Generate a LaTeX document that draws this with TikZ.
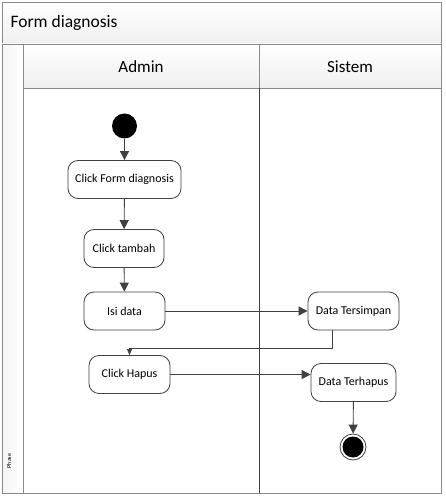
\documentclass[tikz,border=0pt]{standalone}
\usepackage{fontspec}
\setmainfont{Carlito}
\usetikzlibrary{arrows.meta,positioning}
\definecolor{frame}{HTML}{8A8A8A}
\definecolor{linec}{HTML}{404040}
\tikzset{
  act/.style={draw=linec, line width=0.8pt, rounded corners=10pt, fill=white, minimum height=38pt, font=\fontsize{12}{14}\selectfont, inner sep=0pt},
  flow/.style={draw=linec, line width=0.9pt, -{Triangle[length=9pt,width=9pt]}},
  thinflow/.style={draw=linec, line width=0.7pt, -{Triangle[length=6pt,width=5pt]}},
  band/.style={draw=frame, line width=0.9pt, top color=white, bottom color=gray!12},
}
\begin{document}
\begin{tikzpicture}[x=1pt,y=-1pt]
\useasboundingbox (0,0) rectangle (446,497);
% outer frame and bands
\draw[band] (2,2) rectangle (441,44);
\node[anchor=west, font=\fontsize{17.5}{20}\selectfont] (title) at (7,23) {Form diagnosis};
\draw[draw=frame, line width=0.9pt, fill=white] (2,44) rectangle (441,493);
\draw[draw=frame, line width=0.9pt, left color=gray!8, right color=white] (2,44) rectangle (23,493);
\node[rotate=90, font=\fontsize{6}{7}\selectfont, anchor=center] (phase) at (9,461) {Phase};
\draw[band] (23,44) rectangle (259,88);
\draw[band] (259,44) rectangle (441,88);
\node[font=\fontsize{17}{20}\selectfont] (admin) at (141,67) {Admin};
\node[font=\fontsize{17}{20}\selectfont] (sistem) at (350,67) {Sistem};
\draw[draw=linec, line width=0.9pt] (259,88) -- (259,493);
\draw[draw=frame, line width=0.9pt] (2,493) -- (441,493);
% nodes
\node[circle, fill=black, minimum size=25pt, inner sep=0pt] (start) at (124.5,126) {};
\node[act, minimum width=113pt] (cfd) at (124.5,179.5) {Click Form diagnosis};
\node[act, minimum width=80pt] (ct) at (124,248.5) {Click tambah};
\node[act, minimum width=81pt] (isi) at (124.5,311) {Isi data};
\node[act, minimum width=91pt] (ts) at (353.5,311) {Data Tersimpan};
\node[act, minimum width=81pt] (ch) at (129.5,374.5) {Click Hapus};
\node[act, minimum width=85pt] (th) at (353.5,382.5) {Data Terhapus};
\node[circle, draw=linec, line width=0.8pt, fill=white, minimum size=26pt, inner sep=0pt] (endo) at (353,447) {};
\node[circle, fill=black, minimum size=21pt, inner sep=0pt] (endi) at (353,447) {};
\coordinate (bend) at (332,348);
% connectors
\draw[flow] (start) -- (cfd);
\draw[flow] (cfd) -- (ct);
\draw[flow] (ct) -- (isi);
\draw[flow] (isi) -- (ts);
\draw[thinflow] (ts.south -| bend) -- (bend) -- (bend -| ch.north) -- (ch.north);
\draw[flow] (ch.east) -- (th.west |- ch.east);
\draw[flow] (th) -- (endo);
\end{tikzpicture}
\end{document}
